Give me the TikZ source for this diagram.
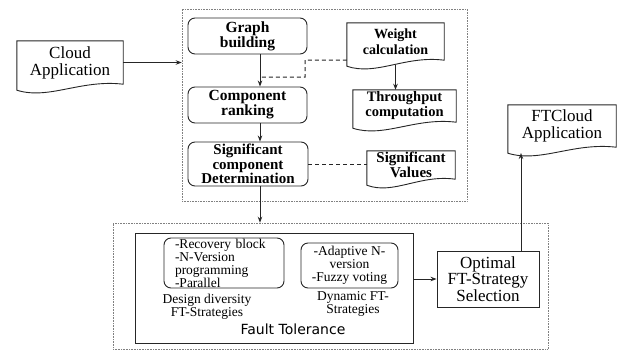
\documentclass[tikz,border=0pt]{standalone}
\usepackage{fontspec}
\setmainfont{Liberation Serif}
\newfontfamily\ftsans{DejaVu Sans}
\usetikzlibrary{calc,arrows.meta}
\newcommand\docshape[1]{%
  \draw[line] (#1.north west) -- (#1.north east) -- (#1.south east)
   .. controls ($(#1.south west)!0.6!(#1.south east)+(0pt,5pt)$) and ($(#1.south west)!0.3!(#1.south east)+(0pt,-16pt)$) .. ($(#1.south west)+(0pt,-6pt)$) -- cycle;}
\begin{document}
\begin{tikzpicture}[x=1pt,y=-1pt,
  line/.style={draw=black!85, line width=0.9pt},
  rbox/.style={line, rounded corners=7pt, align=center, inner sep=0pt},
  sbox/.style={line, align=center, inner sep=0pt},
  doc/.style={align=center, inner sep=0pt},
  dotbox/.style={draw=black!50, densely dotted, line width=0.6pt, inner sep=0pt},
  arr/.style={line, -{Stealth[length=6pt,width=4.5pt]}},
  dashline/.style={draw=black!85, line width=1pt, dash pattern=on 4pt off 3pt},
  txt/.style={inner sep=0pt, align=center},
  fbig/.style={font=\fontsize{17}{17}\selectfont},
  fbold/.style={font=\fontsize{15.5}{15}\selectfont\bfseries},
  fsmall/.style={font=\fontsize{13.5}{13}\selectfont}
]
\fill[white] (0,0) rectangle (621,351);
\useasboundingbox (0,0) rectangle (621,351);

% containers
\node[dotbox, minimum width=285pt, minimum height=192pt] (topbox) at (324.5,105) {};
\node[dotbox, minimum width=435pt, minimum height=126pt] (botbox) at (330.5,286) {};
\node[sbox, minimum width=278pt, minimum height=110pt] (ftbox) at (274,288) {};

% documents
\node[doc, fbig, minimum width=106pt, minimum height=43pt] (ca) at (70,62.5) {Cloud\\Application};
\docshape{ca}
\node[doc, font=\fontsize{14}{16.5}\selectfont\bfseries, minimum width=97pt, minimum height=37pt] (wc) at (395.5,41.5) {Weight\\calculation};
\docshape{wc}
\node[doc, font=\fontsize{14.5}{15}\selectfont\bfseries, minimum width=103pt, minimum height=32pt] (tc) at (404.5,106) {Throughput\\computation};
\docshape{tc}
\node[doc, font=\fontsize{15}{15}\selectfont\bfseries, minimum width=88pt, minimum height=28pt] (sv) at (411,165) {Significant\\Values};
\docshape{sv}
\node[doc, fbig, minimum width=108pt, minimum height=42pt] (ft) at (562,126) {FTCloud\\Application};
\docshape{ft}

% process boxes
\node[rbox, fbold, minimum width=119pt, minimum height=36pt] (gb) at (247.5,36) {Graph\\building};
\node[rbox, fbold, minimum width=119pt, minimum height=36pt] (cr) at (247.5,105) {Component\\ranking};
\node[rbox, font=\fontsize{15}{14.5}\selectfont\bfseries, minimum width=120pt, minimum height=44pt] (sc) at (248,164) {Significant\\component\\Determination};

% fault tolerance contents
\node[rbox, fsmall, minimum width=120pt, minimum height=50pt, text width=98pt, align=left] (rb) at (224,263) {-Recovery block\\-N-Version\\programming\\-Parallel};
\node[rbox, fsmall, minimum width=97pt, minimum height=45pt] (an) at (349.5,265.5) {-Adaptive N-\\version\\-Fuzzy voting};
\node[txt, fsmall] (dd) at (207,306.5) {Design diversity\\FT-Strategies};
\node[txt, fsmall] (dy) at (353,304) {Dynamic FT-\\Strategies};
\node[txt, font=\ftsans\fontsize{14}{14}\selectfont] (ftl) at (293,329) {Fault Tolerance};

\node[sbox, font=\fontsize{17}{16.5}\selectfont, minimum width=102pt, minimum height=56pt] (opt) at (488,279) {Optimal\\FT-Strategy\\Selection};

% helper coordinates
\coordinate (ax) at (260,0);
\coordinate (d1) at (305,60);
\coordinate (d2) at (305,77);
\coordinate (d3) at (260,77);
\coordinate (ftin) at (521,153);

% connectors
\draw[arr] (ca.east) -- (ca.east -| topbox.west);
\draw[arr] (gb.south -| ax) -- (cr.north -| ax);
\draw[arr] (cr.south -| ax) -- (sc.north -| ax);
\draw[arr] (sc.south -| ax) -- (botbox.north -| ax);
\draw[dashline] (wc.south west) -- (d1) -- (d2) -- (d3);
\draw[arr] ([yshift=-5pt]wc.south) -- (wc.south |- tc.north);
\draw[dashline] (sc.east) -- (sc.east -| sv.west);
\draw[arr] (opt.west -| ftbox.east) -- (opt.west);
\draw[arr] ([xshift=33pt]opt.north) -- (ftin);
\end{tikzpicture}
\end{document}
